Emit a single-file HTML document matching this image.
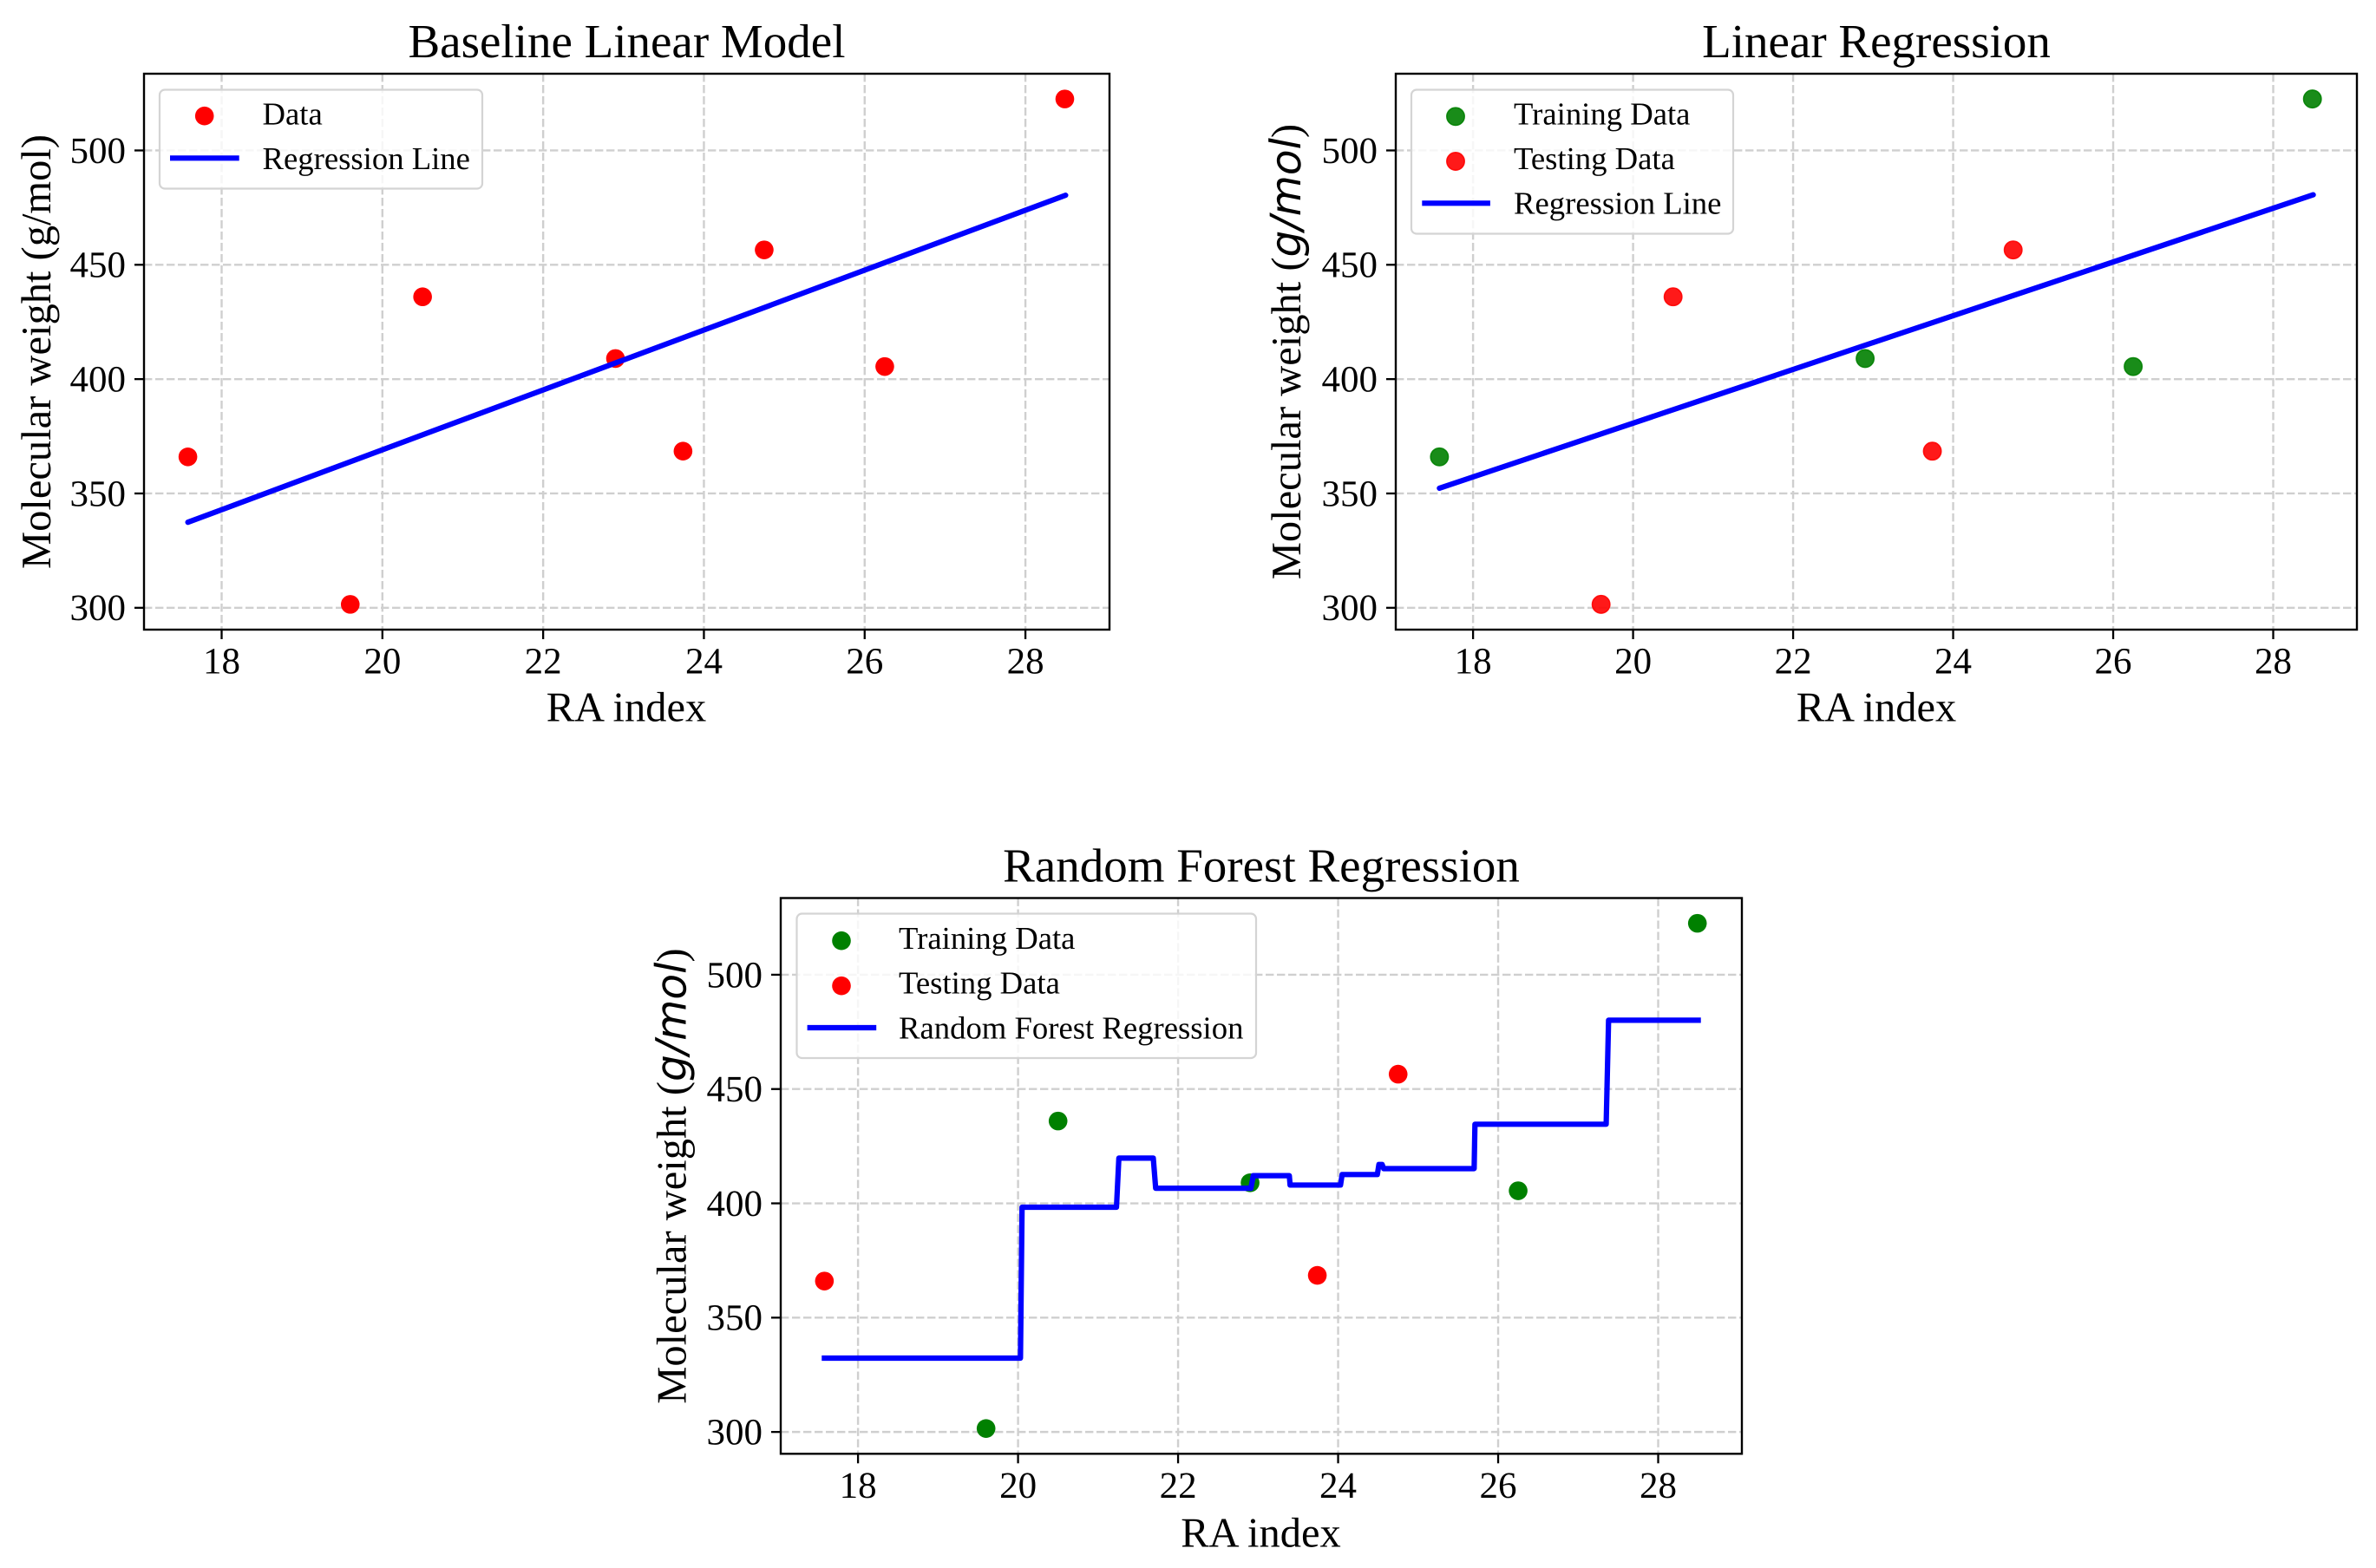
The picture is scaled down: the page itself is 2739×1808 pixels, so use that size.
<!DOCTYPE html>
<html lang="en">
<head>
<meta charset="utf-8">
<title>Regression model comparison</title>
<style>
html,body{margin:0;padding:0;background:#fff;}
svg{display:block;text-rendering:geometricPrecision;}
text{font-family:"Liberation Serif","Times New Roman",serif;fill:#000;}
.title{font-size:55px;text-anchor:middle;}
.axis-label{font-size:48.5px;text-anchor:middle;}
.tick-label{font-size:43px;}
.legend-text{font-size:36.7px;}
.math{font-family:"DejaVu Sans",sans-serif;font-style:italic;}
.legend-box{fill:#fff;fill-opacity:.8;stroke:#d4d4d4;stroke-width:2.2;}
</style>
</head>
<body>
<svg id="figure" xmlns="http://www.w3.org/2000/svg" width="2739" height="1808" viewBox="0 0 2739 1808">
  <rect x="0" y="0" width="2739" height="1808" fill="#ffffff"/>

  <g>
    <g id="plot-baseline"></g>
    <text class="title" x="722.5" y="66">Baseline Linear Model</text>
    <text class="axis-label" x="722" y="831.5">RA index</text>
    <text class="axis-label" transform="translate(58 405.5) rotate(-90)">Molecular weight (g/mol)</text>
    <g>
      <rect class="legend-box" x="184" y="103.5" width="372" height="114" rx="6"/>
      <circle cx="235.7" cy="133.7" r="10.8" fill="#ff0000"/>
      <text class="legend-text" x="302.5" y="143.3">Data</text>
      <line x1="196" x2="275.7" y1="182.3" y2="182.3" stroke="#0000ff" stroke-width="6.2"/>
      <text class="legend-text" x="302.5" y="195">Regression Line</text>
    </g>
  </g>

  <g>
    <g id="plot-linear"></g>
    <text class="title" x="2163" y="66">Linear Regression</text>
    <text class="axis-label" x="2163" y="831.5">RA index</text>
    <text class="axis-label" transform="translate(1499 405.5) rotate(-90)">Molecular weight (<tspan class="math">g/mol</tspan>)</text>
    <g>
      <rect class="legend-box" x="1627" y="103.5" width="371" height="166" rx="6"/>
      <circle cx="1678" cy="134.3" r="10.2" fill="#008000" fill-opacity=".9" stroke="#008000" stroke-opacity=".9" stroke-width="1.5"/>
      <text class="legend-text" x="1745" y="143.3">Training Data</text>
      <circle cx="1678" cy="186" r="10.2" fill="#ff0000" fill-opacity=".9" stroke="#ff0000" stroke-opacity=".9" stroke-width="1.5"/>
      <text class="legend-text" x="1745" y="195">Testing Data</text>
      <line x1="1639.3" x2="1717.9" y1="234.3" y2="234.3" stroke="#0000ff" stroke-width="6.2"/>
      <text class="legend-text" x="1745" y="246.7">Regression Line</text>
    </g>
  </g>

  <g>
    <g id="plot-forest"></g>
    <text class="title" x="1454" y="1016.7">Random Forest Regression</text>
    <text class="axis-label" x="1453.5" y="1783.3">RA index</text>
    <text class="axis-label" transform="translate(790.7 1356) rotate(-90)">Molecular weight (<tspan class="math">g/mol</tspan>)</text>
    <g>
      <rect class="legend-box" x="918.5" y="1053.5" width="529.5" height="166.5" rx="6"/>
      <circle cx="970" cy="1084.7" r="10.8" fill="#008000"/>
      <text class="legend-text" x="1036" y="1094">Training Data</text>
      <circle cx="970" cy="1136.7" r="10.8" fill="#ff0000"/>
      <text class="legend-text" x="1036" y="1145.7">Testing Data</text>
      <line x1="930.6" x2="1010.2" y1="1185" y2="1185" stroke="#0000ff" stroke-width="6.2"/>
      <text class="legend-text" x="1036" y="1197.3">Random Forest Regression</text>
    </g>
  </g>
</svg>

<script>
// Axis ticks
const xTickValues = [18, 20, 22, 24, 26, 28];
const yTickValues = [300, 350, 400, 450, 500];

// Axis limits
const xDomain = [17.034, 29.046];
const yDomain = [290.45, 533.55];

// Baseline panel: all data
const baselineX = [17.58, 19.6, 20.5, 22.9, 23.74, 24.75, 26.25, 28.49];
const baselineY = [366, 301.5, 436, 409, 368.5, 456.5, 405.5, 522.5];
const baselineLineX = [17.58, 28.5];
const baselineLineY = [337.4, 480.4];

// Linear regression panel
const linearTrainX = [17.58, 22.9, 26.25, 28.49];
const linearTrainY = [366, 409, 405.5, 522.5];
const linearTestX = [19.6, 20.5, 23.74, 24.75];
const linearTestY = [301.5, 436, 368.5, 456.5];
const linearLineX = [17.58, 28.5];
const linearLineY = [352.3, 480.6];

// Random forest panel
const forestTrainX = [19.6, 20.5, 22.9, 26.25, 28.49];
const forestTrainY = [301.5, 436, 409, 405.5, 522.5];
const forestTestX = [17.58, 23.74, 24.75];
const forestTestY = [366, 368.5, 456.5];
const forestLineX = [17.58, 20.03, 20.05, 21.23, 21.26, 21.69, 21.72, 22.91, 22.94, 23.39, 23.40, 24.03, 24.05, 24.49, 24.51, 24.55, 24.57, 25.70, 25.71, 27.35, 27.38, 28.5];
const forestLineY = [332.3, 332.3, 398.3, 398.3, 419.8, 419.8, 406.6, 406.6, 412.1, 412.1, 408, 408, 412.6, 412.6, 417, 417, 415.2, 415.2, 434.6, 434.6, 480.1, 480.1];

const SVG_NS = 'http://www.w3.org/2000/svg';

function makeEl(tag, attrs) {
  const el = document.createElementNS(SVG_NS, tag);
  for (const key in attrs) { el.setAttribute(key, attrs[key]); }
  return el;
}

function makeScale(domain, range) {
  return function (v) {
    return range[0] + (v - domain[0]) * (range[1] - range[0]) / (domain[1] - domain[0]);
  };
}

function drawAxes(layer, box, sx, sy) {
  xTickValues.forEach(function (t) {
    const el = makeEl('line', { x1: sx(t), x2: sx(t), y1: box.top, y2: box.bottom, stroke: '#cfcfcf', 'stroke-width': 2.4, 'stroke-dasharray': '9.4 3.6' });
    
    
    layer.appendChild(el);
  });
  yTickValues.forEach(function (t) {
    const el = makeEl('line', { x1: box.left, x2: box.right, y1: sy(t), y2: sy(t), stroke: '#cfcfcf', 'stroke-width': 2.4, 'stroke-dasharray': '9.4 3.6' });
    
    
    layer.appendChild(el);
  });
  xTickValues.forEach(function (t) {
    const mark = makeEl('line', { x1: sx(t), x2: sx(t), y1: box.bottom, y2: box.bottom + 11, stroke: '#000', 'stroke-width': 2.3 });
    
    
    layer.appendChild(mark);
    const label = makeEl('text', { x: sx(t), y: box.bottom + 50.5, 'text-anchor': 'middle', class: 'tick-label' });
    label.textContent = String(t);
    
    
    layer.appendChild(label);
  });
  yTickValues.forEach(function (t) {
    const mark = makeEl('line', { x1: box.left - 11, x2: box.left, y1: sy(t), y2: sy(t), stroke: '#000', 'stroke-width': 2.3 });
    
    
    layer.appendChild(mark);
    const label = makeEl('text', { x: box.left - 21, y: sy(t) + 14.4, 'text-anchor': 'end', class: 'tick-label' });
    label.textContent = String(t);
    
    
    layer.appendChild(label);
  });
}

function drawFrame(layer, box) {
  const el = makeEl('rect', { x: box.left, y: box.top, width: box.right - box.left, height: box.bottom - box.top, fill: 'none', stroke: '#000', 'stroke-width': 2.4 });
  
  
  layer.appendChild(el);
}

function drawPoints(layer, xs, ys, sx, sy, color, translucent) {
  xs.forEach(function (x, i) {
    const attrs = { cx: sx(x), cy: sy(ys[i]), r: translucent ? 10.2 : 10.8, fill: color };
    if (translucent) {
      attrs['fill-opacity'] = 0.9;
      attrs['stroke'] = color;
      attrs['stroke-opacity'] = 0.9;
      attrs['stroke-width'] = 1.5;
    }
    const el = makeEl('circle', attrs);
    
    
    layer.appendChild(el);
  });
}

function drawLine(layer, xs, ys, sx, sy, cap) {
  const points = xs.map(function (x, i) { return sx(x) + ',' + sy(ys[i]); }).join(' ');
  const el = makeEl('polyline', { points: points, fill: 'none', stroke: '#0000ff', 'stroke-width': 6.2, 'stroke-linejoin': 'round', 'stroke-linecap': cap });
  
  
  layer.appendChild(el);
}

function panel(id, box) {
  const layer = document.getElementById(id);
  const sx = makeScale(xDomain, [box.left, box.right]);
  const sy = makeScale(yDomain, [box.bottom, box.top]);
  drawAxes(layer, box, sx, sy);
  return { layer: layer, sx: sx, sy: sy, box: box };
}

const pA = panel('plot-baseline', { left: 166, right: 1279, top: 85, bottom: 726 });
drawPoints(pA.layer, baselineX, baselineY, pA.sx, pA.sy, '#ff0000', false);
drawLine(pA.layer, baselineLineX, baselineLineY, pA.sx, pA.sy, 'round');
drawFrame(pA.layer, pA.box);

const pB = panel('plot-linear', { left: 1609, right: 2717, top: 85, bottom: 726 });
drawPoints(pB.layer, linearTrainX, linearTrainY, pB.sx, pB.sy, '#008000', true);
drawPoints(pB.layer, linearTestX, linearTestY, pB.sx, pB.sy, '#ff0000', true);
drawLine(pB.layer, linearLineX, linearLineY, pB.sx, pB.sy, 'round');
drawFrame(pB.layer, pB.box);

const pC = panel('plot-forest', { left: 900, right: 2008, top: 1035.5, bottom: 1676.3 });
drawPoints(pC.layer, forestTrainX, forestTrainY, pC.sx, pC.sy, '#008000', false);
drawPoints(pC.layer, forestTestX, forestTestY, pC.sx, pC.sy, '#ff0000', false);
drawLine(pC.layer, forestLineX, forestLineY, pC.sx, pC.sy, 'square');
drawFrame(pC.layer, pC.box);
</script>
</body>
</html>
